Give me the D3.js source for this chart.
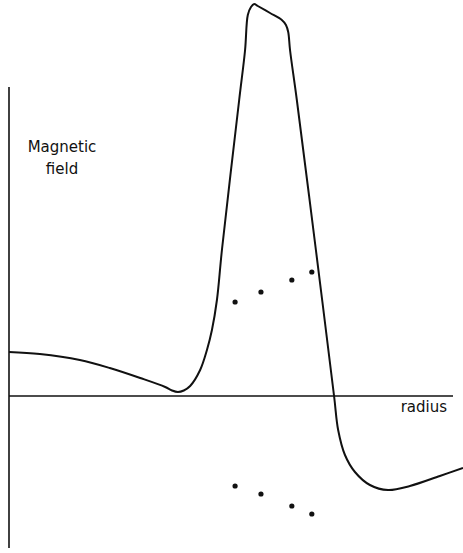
<!DOCTYPE html>
<html>
<head>
<meta charset="utf-8">
<script src="https://cdn.jsdelivr.net/npm/d3@7"></script>
<style>
  body { margin: 0; background: #fff; }
  text { font-family: "DejaVu Sans", sans-serif; fill: #111; }
</style>
</head>
<body>
<div id="chart"></div>
<script>
// radius (arbitrary units) and field strength
const radius = [0, 0.68, 1.56, 2.22, 2.89, 3.44, 3.59, 3.72, 3.85, 3.99, 4.21, 4.36, 4.47, 4.58, 4.69, 5.07, 5.20, 5.26, 5.33, 5.40, 5.48, 5.75, 6.01, 6.10, 6.15, 6.19, 6.34, 6.76, 7.16, 7.25, 7.40, 7.62, 7.95, 8.35, 8.83, 9.49, 10];
const field = [0.44, 0.42, 0.36, 0.28, 0.18, 0.09, 0.055, 0.04, 0.055, 0.10, 0.26, 0.46, 0.66, 0.96, 1.46, 2.96, 3.46, 3.81, 3.89, 3.92, 3.90, 3.83, 3.76, 3.71, 3.64, 3.46, 2.96, 1.46, 0, -0.34, -0.59, -0.76, -0.89, -0.94, -0.90, -0.80, -0.72];

// two rows of dots
const dotRadius = [4.98, 5.55, 6.23, 6.67];
const dotUpper = [0.94, 1.04, 1.16, 1.24];
const dotLower = [-0.90, -0.98, -1.10, -1.18];

const width = 463, height = 553;

const svg = d3.select("#chart").append("svg")
    .attr("width", width)
    .attr("height", height);

const x = d3.scaleLinear().domain([0, 10]).range([9, 463]);
const y = d3.scaleLinear().domain([0, 1]).range([396, 296]);

// axes
svg.append("line")
    .attr("x1", x(0)).attr("x2", x(0))
    .attr("y1", y(3.09)).attr("y2", y(-1.52))
    .attr("stroke", "#111").attr("stroke-width", 1.6);

svg.append("line")
    .attr("x1", x(0)).attr("x2", x(9.78))
    .attr("y1", y(0)).attr("y2", y(0))
    .attr("stroke", "#111").attr("stroke-width", 1.3);

// curve
const pts = radius.map((r, i) => ({ r: r, b: field[i] }));
const line = d3.line()
    .x(d => x(d.r))
    .y(d => y(d.b))
    .curve(d3.curveCatmullRom.alpha(0.5));

svg.append("path")
    .datum(pts)
    .attr("d", line)
    .attr("fill", "none")
    .attr("stroke", "#111")
    .attr("stroke-width", 2);

// dots
const dots = dotRadius.map((r, i) => ({ r: r, b: dotUpper[i] }))
    .concat(dotRadius.map((r, i) => ({ r: r, b: dotLower[i] })));

svg.selectAll(".dot")
    .data(dots)
    .enter().append("circle")
    .attr("class", "dot")
    .attr("cx", d => x(d.r))
    .attr("cy", d => y(d.b))
    .attr("r", 2.6)
    .attr("fill", "#111");

// labels
svg.append("text")
    .attr("x", 62).attr("y", 152)
    .attr("text-anchor", "middle")
    .style("font-size", "15px")
    .text("Magnetic");
svg.append("text")
    .attr("x", 62).attr("y", 174)
    .attr("text-anchor", "middle")
    .style("font-size", "15px")
    .text("field");

svg.append("text")
    .attr("x", 447).attr("y", 412)
    .attr("text-anchor", "end")
    .style("font-size", "15px")
    .text("radius");
</script>
</body>
</html>
